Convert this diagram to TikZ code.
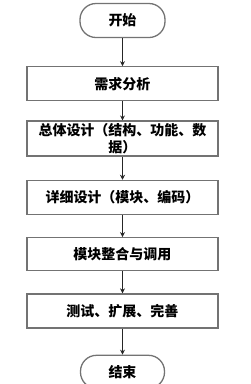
\documentclass[tikz,border=0pt]{standalone}
\usepackage{fontspec}
\newfontfamily\cjk{Noto Sans CJK SC}
\usetikzlibrary{shapes,arrows.meta,positioning,calc}

\begin{document}
\begin{tikzpicture}[
        x=1pt, y=1pt,
        terminal/.style={
            rectangle, rounded corners=16pt, draw=black!55, line width=1.3pt,
            minimum width=85pt, minimum height=34pt, align=center,
            font=\cjk\bfseries\fontsize{14}{17}\selectfont, text=black, inner sep=0pt
        },
        stepbox/.style={
            rectangle, draw=black!55, line width=1.3pt,
            minimum width=191pt, minimum height=34pt, align=center,
            font=\cjk\bfseries\fontsize{14}{17}\selectfont, text=black, inner sep=0pt
        },
        arr/.style={-{Stealth[length=5pt,width=5pt]}, line width=0.8pt, draw=black!85}
    ]
    \useasboundingbox (0,0) rectangle (250,-384);

    % Start / end
    \node[terminal] (start) at (122.5,-20.5) {开始};

    % Steps
    \node[stepbox, below=28pt of start] (s1) {需求分析};
    \node[stepbox, below=19pt of s1, minimum height=35pt] (s2) {总体设计（结构、功能、数\\据）};
    \node[stepbox, below=23pt of s2] (s3) {详细设计（模块、编码）};
    \node[stepbox, below=22pt of s3, minimum height=33pt] (s4) {模块整合与调用};
    \node[stepbox, below=22pt of s4] (s5) {测试、扩展、完善};

    \node[terminal, below=26pt of s5, minimum width=84pt, minimum height=33pt] (stop) {结束};

    % Arrows
    \draw[arr] (start) -- (s1);
    \draw[arr] (s1) -- (s2);
    \draw[arr] (s2) -- (s3);
    \draw[arr] (s3) -- (s4);
    \draw[arr] (s4) -- (s5);
    \draw[arr] (s5) -- (stop);
\end{tikzpicture}
\end{document}
